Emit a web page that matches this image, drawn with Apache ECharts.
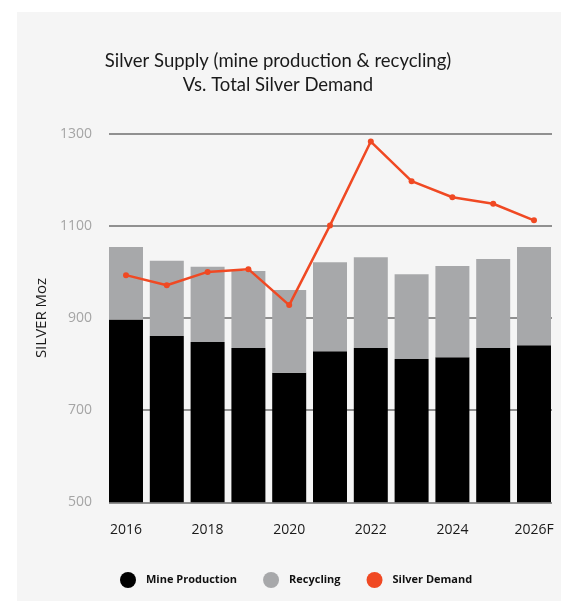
<!DOCTYPE html>
<html>
<head>
<meta charset="utf-8">
<script src="https://cdn.jsdelivr.net/npm/echarts@6/dist/echarts.min.js"></script>
<style>
  html, body { margin: 0; padding: 0; background: #ffffff; }
  #chart { width: 561px; height: 601px; }
</style>
</head>
<body>
<div id="chart"></div>
<script>
// Silver market, million ounces
const years = ['2016', '2017', '2018', '2019', '2020', '2021', '2022', '2023', '2024', '2025', '2026F'];
const mineProduction = [897, 861, 848, 835, 781, 828, 835, 811, 815, 835, 841];
const recycling = [157, 163, 163, 167, 180, 193, 197, 184, 198, 193, 213];
const silverDemand = [993, 971, 1000, 1006, 928, 1101, 1283, 1197, 1162, 1148, 1112];
const yTicks = [500, 700, 900, 1100, 1300];

const FONT = '"Open Sans", "Liberation Sans", sans-serif';
const TITLE_FONT = 'Lato, "Open Sans", sans-serif';

const chart = echarts.init(document.getElementById('chart'), null, { renderer: 'canvas' });

chart.setOption({
  backgroundColor: '#ffffff',
  animation: false,
  graphic: [{
    type: 'rect',
    z: -10,
    silent: true,
    shape: { x: 17, y: 12, width: 561 - 17, height: 601 - 12 },
    style: { fill: '#f5f5f5' }
  }],
  title: {
    text: 'Silver Supply (mine production & recycling)\nVs. Total Silver Demand',
    left: 273,
    textAlign: 'center',
    top: 44,
    textStyle: { fontFamily: TITLE_FONT, fontSize: 18.5, fontWeight: 'normal', color: '#1a1a1a', lineHeight: 24 }
  },
  legend: {
    top: 567,
    left: 115,
    itemGap: 26,
    itemWidth: 16,
    itemHeight: 16,
    icon: 'circle',
    data: ['Mine Production', 'Recycling', 'Silver Demand'],
    textStyle: { fontFamily: FONT, fontSize: 11, fontWeight: 'bold', color: '#111', padding: [0, 0, 0, 5] }
  },
  grid: [
    // gridlines area
    { left: 109, right: 9, top: 133.7, bottom: 601 - 502.3 },
    // bars and line area
    { left: 105.6, right: 561 - 554.4, top: 133.7, bottom: 601 - 502.3 }
  ],
  xAxis: [
    { gridIndex: 0, type: 'category', data: years, show: false },
    {
      gridIndex: 1,
      type: 'category',
      data: years,
      axisLine: { show: false },
      axisTick: { show: false },
      axisLabel: {
        interval: 1,
        margin: 21,
        fontFamily: FONT,
        fontSize: 14,
        color: '#1a1a1a'
      }
    }
  ],
  yAxis: [
    {
      gridIndex: 0,
      type: 'value',
      min: 500, max: 1300, interval: 200,
      name: 'SILVER Moz',
      nameLocation: 'middle',
      nameGap: 59,
      nameTextStyle: { fontFamily: FONT, fontSize: 15, color: '#1a1a1a' },
      axisLine: { show: false },
      axisTick: { show: false },
      axisLabel: {
        margin: 17,
        fontFamily: FONT,
        fontSize: 14,
        color: '#a5a5a5',
        formatter: v => (yTicks.includes(v) ? String(v) : '')
      },
      splitLine: { show: true, lineStyle: { color: '#6e6e6e', width: 1.5 } }
    },
    {
      gridIndex: 1,
      type: 'value',
      min: 500, max: 1300, interval: 200,
      show: false,
      splitLine: { show: false }
    }
  ],
  series: [
    {
      name: 'Mine Production',
      type: 'bar',
      xAxisIndex: 1, yAxisIndex: 1,
      stack: 'supply',
      barCategoryGap: '16.7%',
      itemStyle: { color: '#000000' },
      data: mineProduction
    },
    {
      name: 'Recycling',
      type: 'bar',
      xAxisIndex: 1, yAxisIndex: 1,
      stack: 'supply',
      barCategoryGap: '16.7%',
      itemStyle: { color: '#a7a8aa' },
      data: recycling
    },
    {
      name: 'Silver Demand',
      type: 'line',
      xAxisIndex: 1, yAxisIndex: 1,
      symbol: 'circle',
      symbolSize: 6,
      z: 5,
      lineStyle: { color: '#f04923', width: 2.5 },
      itemStyle: { color: '#f04923' },
      data: silverDemand
    }
  ]
});
</script>
</body>
</html>
